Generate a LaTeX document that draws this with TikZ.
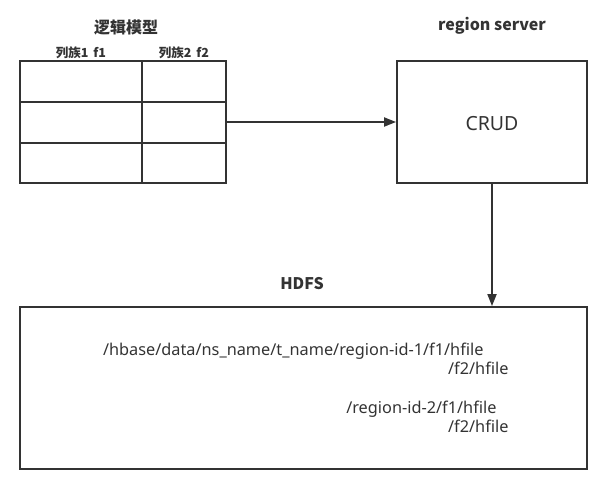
\documentclass[tikz,border=0pt]{standalone}
\usepackage{fontspec}
\setmainfont{Noto Sans}
\newfontfamily\cjk{Noto Sans CJK SC}
\usetikzlibrary{arrows.meta}
\definecolor{ink}{HTML}{333333}
\begin{document}
\begin{tikzpicture}[x=1pt,y=-1pt,
  box/.style={draw=ink,line width=1.8pt,inner sep=0pt},
  conn/.style={draw=ink,line width=1.8pt,-{Triangle[length=12pt,width=9pt]}},
  title/.style={text=ink,font=\fontsize{16}{18}\selectfont\cjk\bfseries},
  small/.style={text=ink,font=\fontsize{12.5}{14}\selectfont\cjk\bfseries},
  path/.style={text=ink,font=\fontsize{16.3}{18}\selectfont}]
\useasboundingbox (0,0) rectangle (607,479);
% table
\node[box,minimum width=206pt,minimum height=122pt] (tbl) at (123,122) {};
\coordinate (c1) at (142,61);
\coordinate (c2) at (142,183);
\coordinate (r1a) at (20,102);
\coordinate (r1b) at (226,102);
\coordinate (r2a) at (20,143);
\coordinate (r2b) at (226,143);
\draw[ink,line width=1.8pt] (c1) -- (c2) (r1a) -- (r1b) (r2a) -- (r2b);
\node[title] (lm) at (126,27) {逻辑模型};
\node[small] (h1) at (81,53) {列族1\ \,f1};
\node[small] (h2) at (184,53) {列族2\ \,f2};
% region server
\node[box,minimum width=190pt,minimum height=122pt] (crud) at (492,122) {};
\node[text=ink,font=\fontsize{19.5}{22}\selectfont] (crudt) at (492,124) {CRUD};
\node[title] (rs) at (492,26) {region server};
% HDFS
\node[box,minimum width=567pt,minimum height=162pt] (hdfs) at (303.5,388) {};
\node[title] (hd) at (302,284) {HDFS};
\node[path,anchor=base east] (p1) at (487,355) {/hbase/data/ns\_name/t\_name/region-id-1/f1/hfile};
\node[path,anchor=base east] (p2) at (512,374) {/f2/hfile};
\node[path,anchor=base east] (p3) at (500,413) {/region-id-2/f1/hfile};
\node[path,anchor=base east] (p4) at (512,432) {/f2/hfile};
% connectors
\draw[conn] (tbl.east) -- (crud.west);
\draw[conn] (crud.south) -- (crud.south |- hdfs.north);
\end{tikzpicture}
\end{document}
